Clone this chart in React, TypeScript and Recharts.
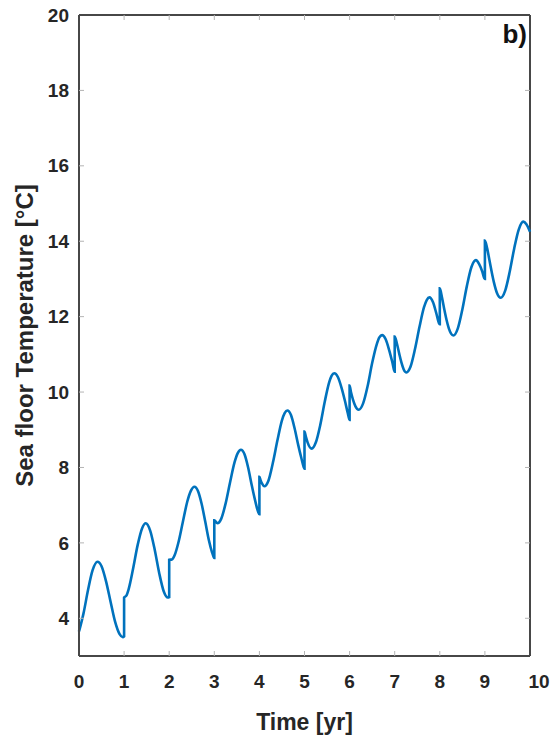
import { LineChart, Line, XAxis, YAxis, ReferenceLine } from "recharts";

// time [yr] and sea floor temperature [°C].
// Each year boundary is listed twice (value before and after the jump).
const timeYr = [
  0, 0.1, 0.2, 0.3, 0.41, 0.5, 0.6, 0.7, 0.8, 0.9, 0.97, 1.0,
  1.0, 1.05, 1.1, 1.2, 1.3, 1.4, 1.48, 1.58, 1.68, 1.78, 1.88, 1.97, 2.0,
  2.0, 2.06, 2.12, 2.2, 2.3, 2.4, 2.48, 2.56, 2.64, 2.72, 2.8, 2.88, 2.95, 2.985, 3.0,
  3.0, 3.07, 3.15, 3.25, 3.35, 3.45, 3.52, 3.59, 3.67, 3.75, 3.83, 3.91, 3.97, 4.0,
  4.0, 4.03, 4.06, 4.11, 4.2, 4.3, 4.4, 4.5, 4.56, 4.62, 4.7, 4.78, 4.86, 4.93, 4.98, 5.0,
  5.0, 5.03, 5.07, 5.16, 5.25, 5.35, 5.45, 5.55, 5.6, 5.66, 5.74, 5.82, 5.9, 5.96, 6.0,
  6.0, 6.03, 6.08, 6.13, 6.2, 6.3, 6.4, 6.5, 6.6, 6.66, 6.72, 6.8, 6.88, 6.95, 7.0,
  7.0, 7.05, 7.1, 7.15, 7.2, 7.26, 7.35, 7.45, 7.55, 7.65, 7.71, 7.77, 7.85, 7.92, 7.985, 8.0,
  8.0, 8.05, 8.1, 8.15, 8.2, 8.25, 8.3, 8.4, 8.5, 8.6, 8.7, 8.8, 8.87, 8.94, 8.985, 9.0,
  9.0, 9.05, 9.1, 9.15, 9.2, 9.27, 9.35, 9.45, 9.55, 9.65, 9.75, 9.85, 9.92, 10.0,
];
const seaFloorTemp = [
  3.65, 4.13, 4.75, 5.27, 5.5, 5.38, 4.98, 4.44, 3.91, 3.58, 3.5, 3.52,
  4.55, 4.6, 4.77, 5.32, 5.94, 6.39, 6.52, 6.32, 5.81, 5.19, 4.71, 4.55, 4.56,
  5.55, 5.56, 5.67, 5.99, 6.54, 7.09, 7.38, 7.49, 7.37, 7.03, 6.56, 6.07, 5.75, 5.63, 5.6,
  6.6, 6.52, 6.63, 7.04, 7.61, 8.14, 8.38, 8.47, 8.35, 8.0, 7.53, 7.1, 6.83, 6.76,
  7.75, 7.65, 7.57, 7.5, 7.65, 8.13, 8.72, 9.25, 9.44, 9.51, 9.39, 9.04, 8.6, 8.25, 8.02, 7.97,
  8.95, 8.82, 8.66, 8.5, 8.66, 9.13, 9.75, 10.27, 10.43, 10.5, 10.4, 10.12, 9.75, 9.44, 9.26,
  10.17, 10.0, 9.78, 9.62, 9.53, 9.7, 10.16, 10.77, 11.26, 11.45, 11.51, 11.4, 11.1, 10.78, 10.54,
  11.47, 11.28, 11.02, 10.78, 10.6, 10.52, 10.67, 11.14, 11.73, 12.25, 12.44, 12.51, 12.38, 12.1, 11.82, 11.8,
  12.75, 12.5, 12.19, 11.91, 11.69, 11.55, 11.5, 11.69, 12.19, 12.81, 13.31, 13.5, 13.4, 13.2, 13.02, 13.0,
  14.02, 13.81, 13.5, 13.19, 12.91, 12.62, 12.5, 12.69, 13.19, 13.81, 14.31, 14.52, 14.45, 14.25,
];
const xTicks = [0, 1, 2, 3, 4, 5, 6, 7, 8, 9, 10];
const yTicks = [4, 6, 8, 10, 12, 14, 16, 18, 20];

const data = timeYr.map((t, i) => ({ t, temp: seaFloorTemp[i] }));

const CHART_W = 552;
const CHART_H = 742;
const MARGIN = { top: 15, right: 22, bottom: 0, left: 0 };
const Y_AXIS_W = 79;
const X_AXIS_H = 86;
const PLOT_W = CHART_W - MARGIN.left - MARGIN.right - Y_AXIS_W;
const PLOT_H = CHART_H - MARGIN.top - MARGIN.bottom - X_AXIS_H;
const PLOT_LEFT = MARGIN.left + Y_AXIS_W;

const FONT = '"Liberation Sans", Arial, Helvetica, sans-serif';
const AXIS_COLOR = "#474747";
const TICK_COLOR = "#b4b4b4";
const TEXT_COLOR = "#262626";
const TICK_LEN = 5;

function XTick({ x, y, payload }: any) {
  const v = payload.value;
  const edge = v === xTicks[0] || v === xTicks[xTicks.length - 1];
  const isLast = v === xTicks[xTicks.length - 1];
  return (
    <g>
      {!edge && (
        <>
          <line x1={x} x2={x} y1={y} y2={y - TICK_LEN} stroke={TICK_COLOR} />
          <line x1={x} x2={x} y1={y - PLOT_H} y2={y - PLOT_H + TICK_LEN} stroke={TICK_COLOR} />
        </>
      )}
      <text
        x={isLast ? x + 9 : x}
        y={y + 32}
        textAnchor="middle"
        fontFamily={FONT}
        fontWeight="bold"
        fontSize={19}
        fill={TEXT_COLOR}
      >
        {v}
      </text>
    </g>
  );
}

function YTick({ x, y, payload }: any) {
  const v = payload.value;
  const edge = v === yTicks[yTicks.length - 1];
  return (
    <g>
      {!edge && (
        <>
          <line x1={x} x2={x + TICK_LEN} y1={y} y2={y} stroke={TICK_COLOR} />
          <line x1={x + PLOT_W} x2={x + PLOT_W - TICK_LEN} y1={y} y2={y} stroke={TICK_COLOR} />
        </>
      )}
      <text
        x={x - 10}
        y={y}
        dy="0.35em"
        textAnchor="end"
        fontFamily={FONT}
        fontWeight="bold"
        fontSize={19}
        fill={TEXT_COLOR}
      >
        {v}
      </text>
    </g>
  );
}

export default function App() {
  const midY = MARGIN.top + PLOT_H / 2;
  return (
    <div style={{ position: "absolute", left: 0, top: 0, width: CHART_W, height: CHART_H, background: "#fff" }}>
      <LineChart width={CHART_W} height={CHART_H} data={data} margin={MARGIN}>
        <XAxis
          type="number"
          dataKey="t"
          domain={[0, 10]}
          ticks={xTicks}
          interval={0}
          height={X_AXIS_H}
          tickSize={0}
          tickMargin={0}
          tick={<XTick />}
          axisLine={{ stroke: AXIS_COLOR, strokeWidth: 2 }}
          label={() => (
            <text
              x={PLOT_LEFT + PLOT_W / 2}
              y={CHART_H - 12}
              textAnchor="middle"
              fontFamily={FONT}
              fontWeight="bold"
              fontSize={23}
              fill={TEXT_COLOR}
            >
              Time [yr]
            </text>
          )}
        />
        <YAxis
          type="number"
          domain={[3, 20]}
          ticks={yTicks}
          interval={0}
          width={Y_AXIS_W}
          tickSize={0}
          tickMargin={0}
          tick={<YTick />}
          axisLine={{ stroke: AXIS_COLOR, strokeWidth: 2 }}
          label={() => (
            <text
              x={33}
              y={midY}
              transform={`rotate(-90 33 ${midY})`}
              textAnchor="middle"
              fontFamily={FONT}
              fontWeight="bold"
              fontSize={24}
              fill={TEXT_COLOR}
            >
              Sea floor Temperature [°C]
            </text>
          )}
        />
        <ReferenceLine y={20} stroke={AXIS_COLOR} strokeWidth={2} />
        <ReferenceLine
          x={10}
          stroke={AXIS_COLOR}
          strokeWidth={2}
          label={() => (
            <text
              x={PLOT_LEFT + PLOT_W - 3}
              y={MARGIN.top + 28}
              textAnchor="end"
              fontFamily={FONT}
              fontWeight="bold"
              fontSize={26}
              fill="#111"
            >
              b)
            </text>
          )}
        />
        <Line
          type="monotone"
          dataKey="temp"
          stroke="#0072BD"
          strokeWidth={2.6}
          dot={false}
          activeDot={false}
          isAnimationActive={false}
        />
      </LineChart>
    </div>
  );
}
